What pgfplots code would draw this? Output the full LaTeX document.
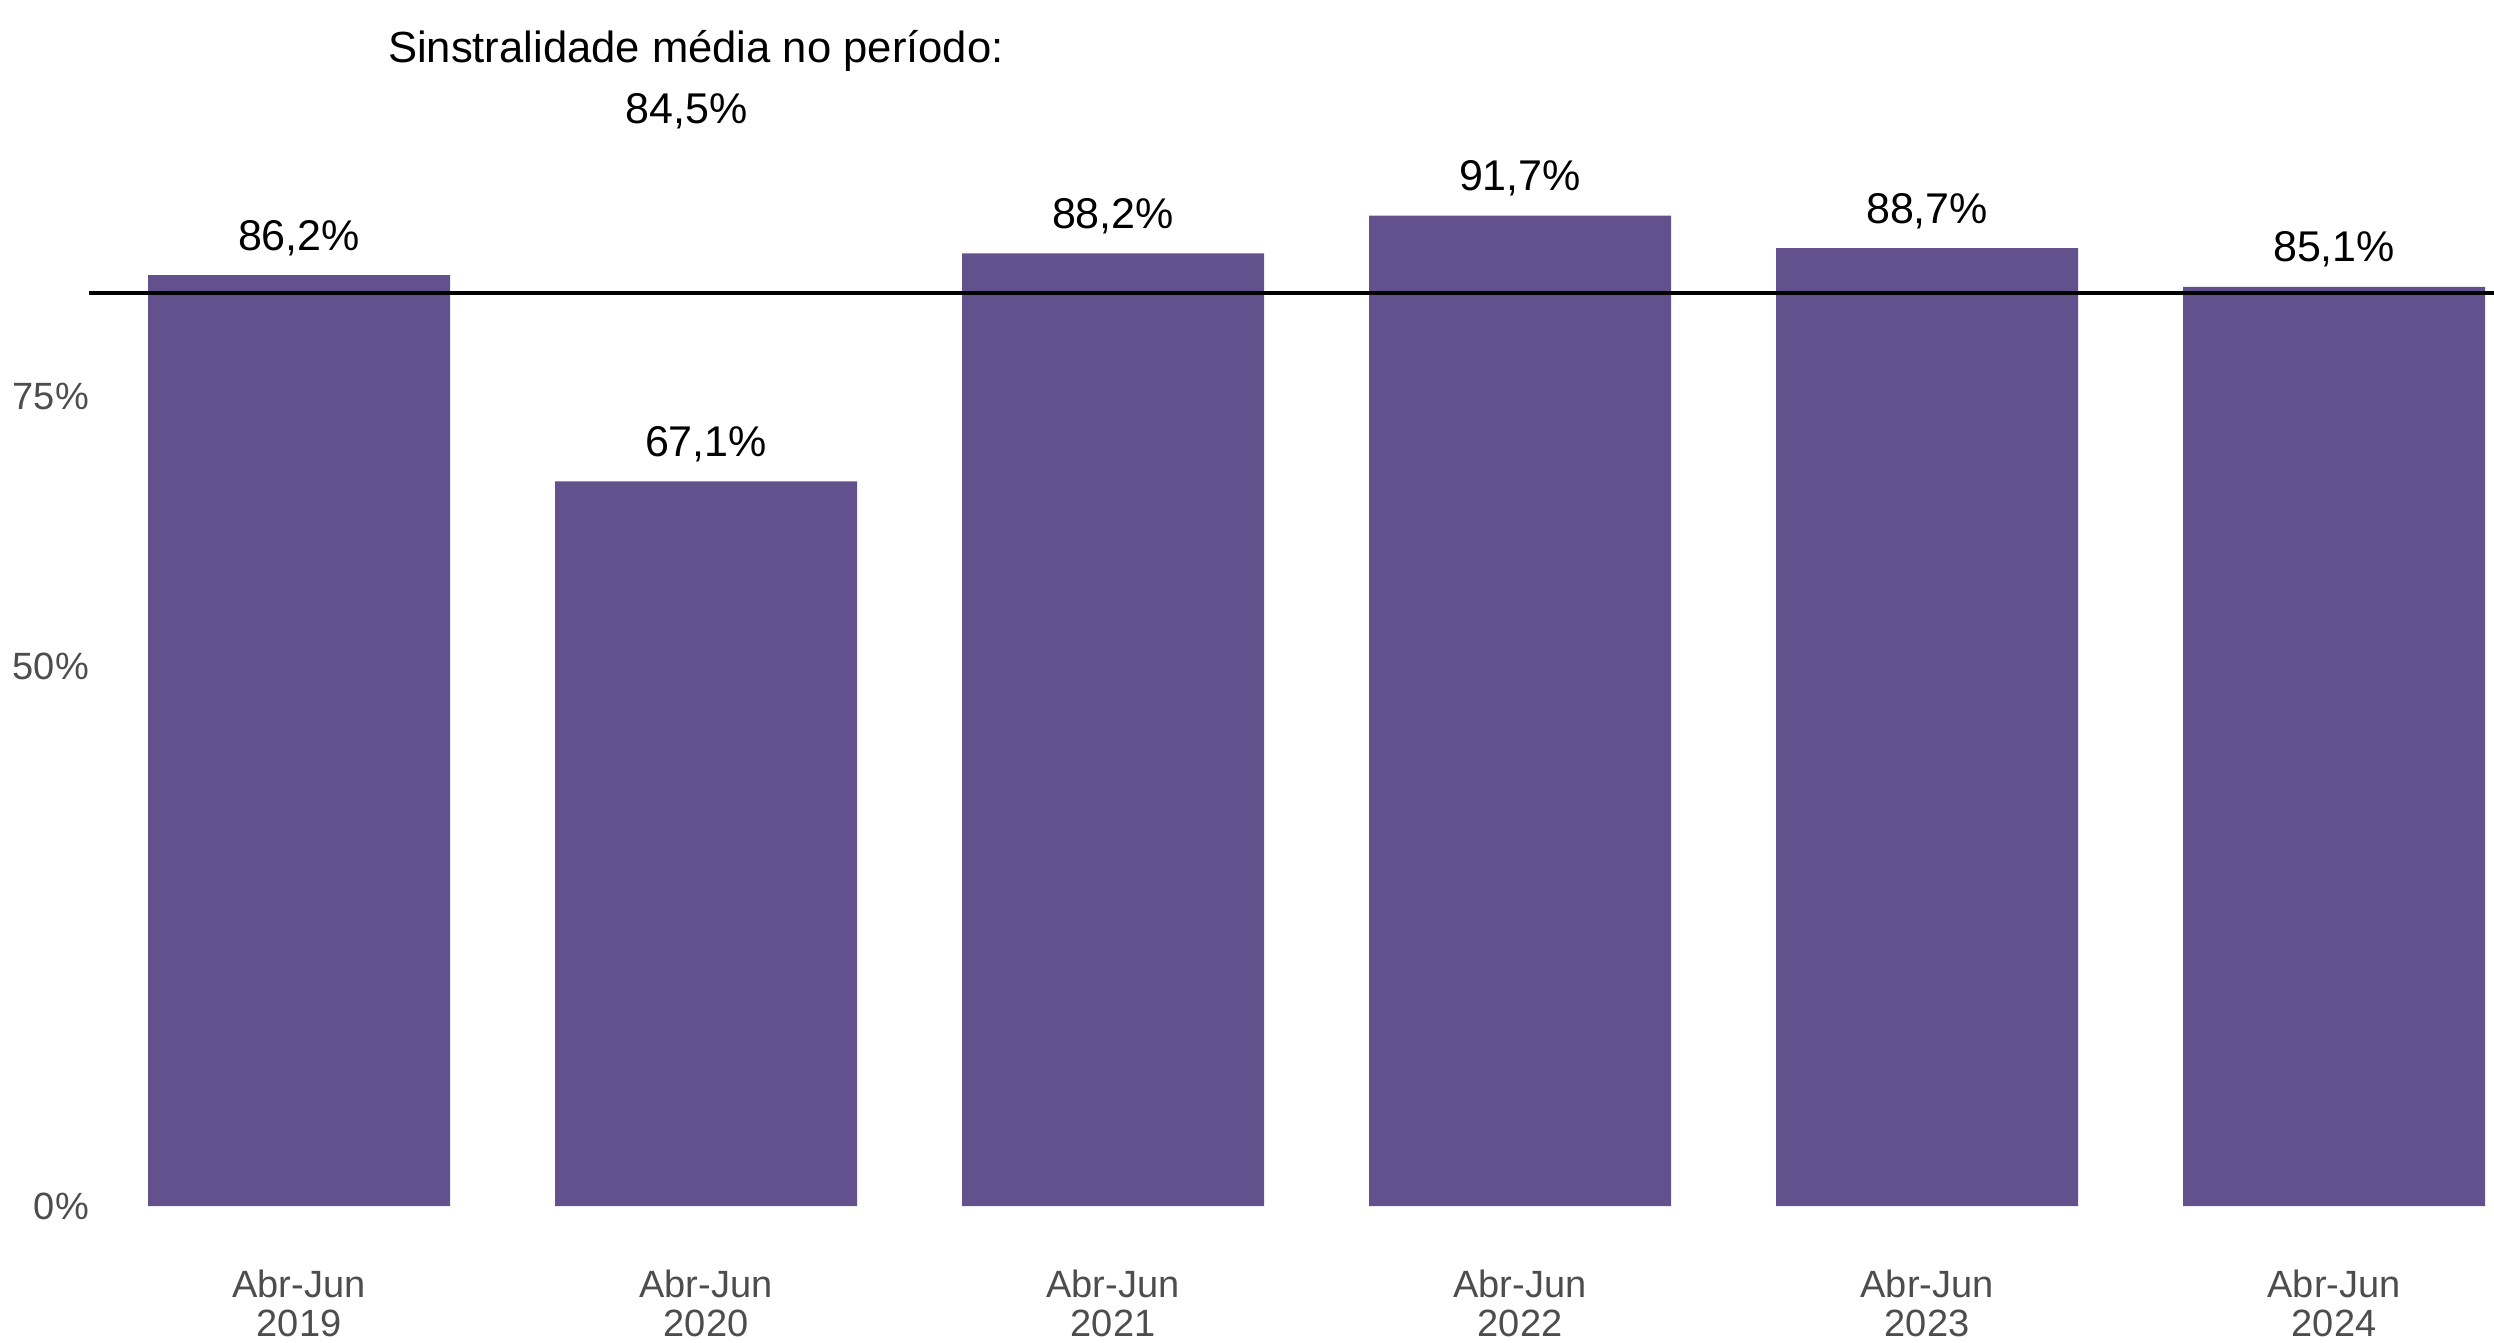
\documentclass[border=0pt]{standalone}
\usepackage{fontspec}
\setmainfont{Liberation Sans}
\usepackage{pgfplots}
\usepackage{pgfplotstable}
\pgfplotsset{compat=1.18}
\definecolor{barcol}{HTML}{63518E}
\definecolor{tickgray}{HTML}{4D4D4D}

% sinistralidade Abr-Jun, em %
\pgfplotstableread{
x  val
0  86.2
1  67.1
2  88.2
3  91.7
4  88.7
5  85.1
}\sinistro

\begin{document}
\begin{tikzpicture}
\begin{axis}[
    at={(0,0)}, anchor=south west,
    scale only axis,
    width=601.25pt, height=301.5pt,
    xmin=-0.516, xmax=5.393,
    ymin=0, ymax=111.67,
    axis line style={draw=none},
    tick style={draw=none},
    major tick length=0pt,
    xtick={0,...,5},
    xticklabels={Abr-Jun\\2019,Abr-Jun\\2020,Abr-Jun\\2021,Abr-Jun\\2022,Abr-Jun\\2023,Abr-Jun\\2024},
    xticklabel style={align=center, font=\fontsize{9.5}{9.6}\selectfont, text=tickgray, yshift=-12.5pt},
    ytick={0,50,75},
    yticklabels={0\%,50\%,75\%},
    yticklabel style={font=\fontsize{9.5}{11}\selectfont, text=tickgray, xshift=3.5pt},
    /pgf/number format/assume math mode=true,
    clip=false,
]
\addplot[ybar, bar width=0.742, fill=barcol, draw=none,
    nodes near coords={\pgfmathprintnumber[fixed,fixed zerofill,precision=1,use comma]{\pgfplotspointmeta}\%},
    every node near coord/.append style={anchor=base, yshift=6.25pt, font=\fontsize{10.75}{12}\selectfont, text=black},
] table[x=x, y=val] {\sinistro};
% media do periodo
\addplot[black, line width=1pt] coordinates {(-0.516,84.5) (5.393,84.5)};
\node[anchor=base, font=\fontsize{10.9}{12}\selectfont] at (axis cs:0.975,105.9) {Sinstralidade média no período:};
\node[anchor=base, font=\fontsize{10.75}{12}\selectfont] at (axis cs:0.953,100.2) {84,5\%};
\end{axis}
\pgfresetboundingbox
\useasboundingbox (-22.25pt,-34pt) rectangle (601.25pt,301.5pt);
\end{tikzpicture}
\end{document}
